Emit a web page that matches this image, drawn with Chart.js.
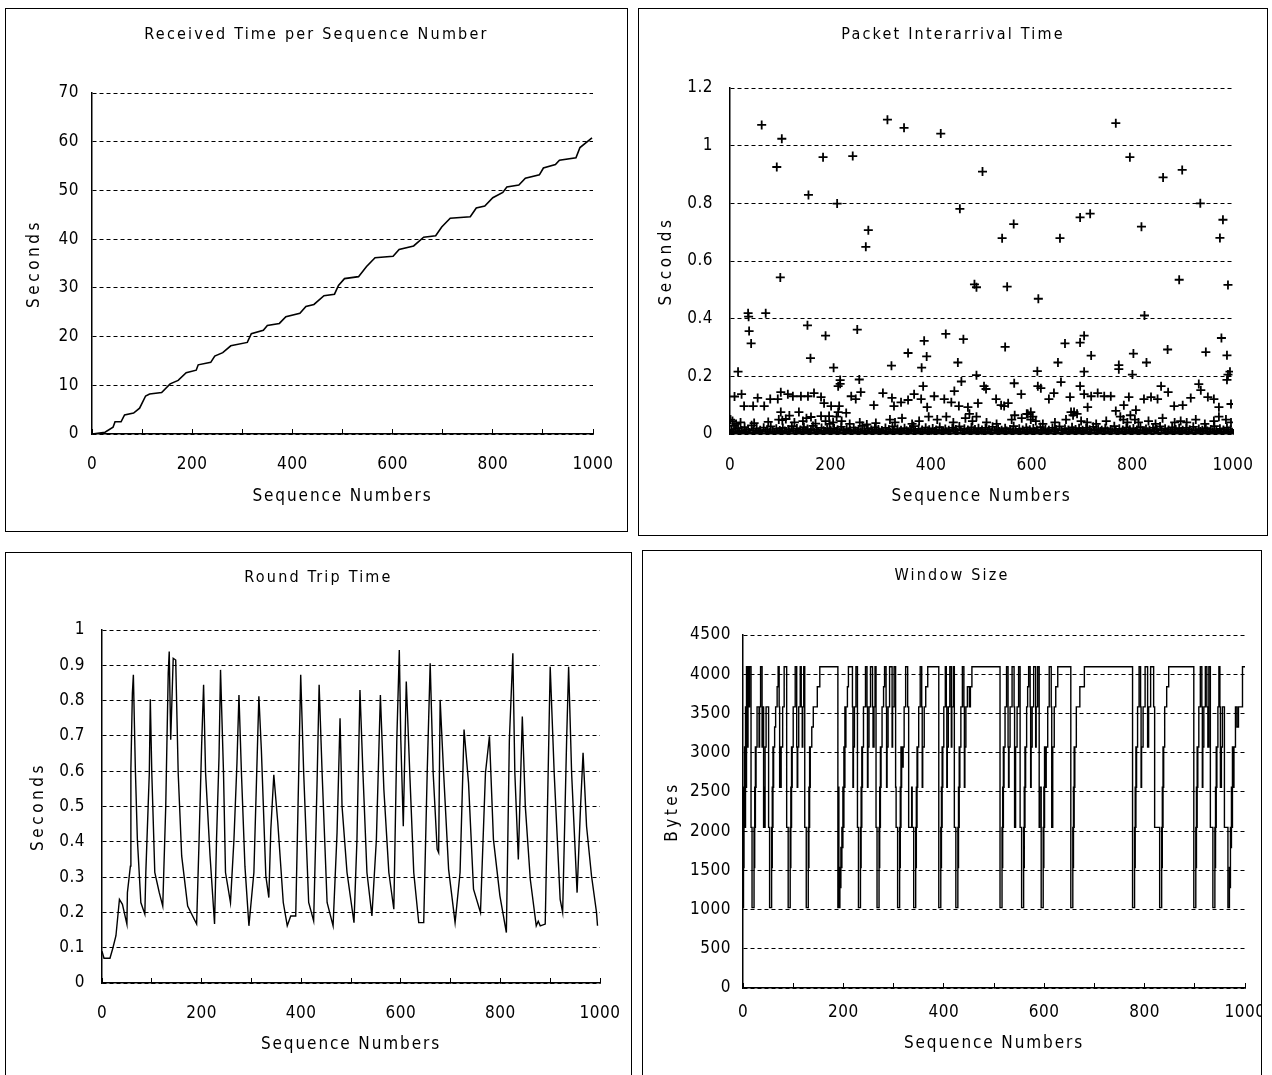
<!DOCTYPE html>
<html lang="en">
  <head>
    <meta charset="UTF-8" />
    <title>TCP Trace Charts</title>
    <script src="https://cdn.jsdelivr.net/npm/chart.js@4"></script>
    <style>
      body {
        margin: 0;
        width: 1272px;
        height: 1075px;
        overflow: hidden;
        background: #fff;
        position: relative;
      }
      .panel {
        position: absolute;
        border: 1px solid #000;
        background: #fff;
      }
      .panel canvas {
        display: block;
      }
    </style>
  </head>
  <body>
    <div class="panel" style="left: 5px; top: 8px; width: 621px; height: 522px">
      <canvas id="recvChart" width="621" height="522"></canvas>
    </div>
    <div class="panel" style="left: 638px; top: 8px; width: 628px; height: 526px">
      <canvas id="iatChart" width="628" height="526"></canvas>
    </div>
    <div class="panel" style="left: 5px; top: 552px; width: 625px; height: 528px">
      <canvas id="rttChart" width="625" height="528"></canvas>
    </div>
    <div class="panel" style="left: 642px; top: 550px; width: 618px; height: 528px">
      <canvas id="winChart" width="618" height="528"></canvas>
    </div>
    <script>
      /*** data: [sequence number, value] ***/
      const seqRange = { min: 0, max: 1000, step: 100, labelEvery: 200 };

      // received time (seconds) per sequence number, corner points of the staircase
      const receivedTime = [
        [0, 0], [26, 0.35], [42, 1.4], [46, 2.5], [58, 2.5], [65, 3.9], [83, 4.3], [95, 5.3],
        [107, 7.8], [115, 8.2], [139, 8.5], [156, 10.3], [172, 11], [188, 12.6], [208, 13.1],
        [212, 14.2], [237, 14.7], [245, 16], [261, 16.7], [277, 18.1], [310, 18.8], [318, 20.6],
        [342, 21.3], [350, 22.3], [374, 22.7], [387, 24.1], [415, 24.8], [427, 26.2], [443, 26.6],
        [463, 28.4], [484, 28.7], [492, 30.5], [504, 31.9], [532, 32.3], [548, 34.4], [565, 36.2],
        [601, 36.5], [613, 37.9], [642, 38.6], [662, 40.4], [686, 40.7], [698, 42.5], [715, 44.3],
        [755, 44.6], [767, 46.4], [784, 46.8], [800, 48.5], [820, 49.6], [828, 50.7], [852, 51.1],
        [865, 52.5], [893, 53.2], [901, 54.6], [925, 55.3], [933, 56.2], [966, 56.7], [974, 58.8],
        [998, 60.8]
      ];

      // packet interarrival time (seconds)
      const iatHigh = [
        [63, 1.072], [93, 0.926], [103, 1.024], [100, 0.543], [36, 0.419], [37, 0.407], [38, 0.357],
        [42, 0.314], [71, 0.419], [16, 0.216], [156, 0.829], [160, 0.263], [154, 0.377], [185, 0.96],
        [213, 0.799], [190, 0.341], [206, 0.23], [244, 0.964], [270, 0.649], [275, 0.707],
        [253, 0.362], [257, 0.189], [219, 0.174], [313, 1.09], [346, 1.062], [321, 0.237],
        [354, 0.281], [386, 0.323], [391, 0.269], [381, 0.23], [419, 1.042], [429, 0.347],
        [457, 0.781], [453, 0.248], [464, 0.329], [460, 0.182], [502, 0.91], [486, 0.519],
        [490, 0.509], [490, 0.204], [541, 0.679], [564, 0.728], [551, 0.511], [547, 0.302],
        [613, 0.469], [611, 0.218], [656, 0.679], [652, 0.248], [666, 0.314], [696, 0.751],
        [716, 0.764], [696, 0.317], [704, 0.341], [718, 0.272], [704, 0.216], [767, 1.078],
        [795, 0.96], [818, 0.719], [824, 0.411], [802, 0.279], [828, 0.248], [773, 0.239],
        [773, 0.225], [800, 0.206], [861, 0.89], [899, 0.916], [893, 0.535], [870, 0.293],
        [935, 0.8], [980, 0.743], [974, 0.68], [990, 0.517], [977, 0.333], [988, 0.273],
        [994, 0.216], [990, 0.206], [988, 0.188], [946, 0.284]
      ];
      const iatMid = [
        [9, 0.13], [23, 0.138], [28, 0.097], [46, 0.097], [55, 0.125], [68, 0.097], [80, 0.121],
        [95, 0.121], [101, 0.145], [115, 0.138], [125, 0.131], [141, 0.131], [155, 0.131],
        [167, 0.142], [181, 0.128], [187, 0.107], [201, 0.097], [217, 0.097], [215, 0.166],
        [219, 0.187], [241, 0.131], [250, 0.121], [260, 0.145], [101, 0.076], [111, 0.052],
        [137, 0.076], [161, 0.059], [181, 0.062], [197, 0.062], [215, 0.076], [231, 0.073],
        [286, 0.1], [304, 0.142], [322, 0.125], [326, 0.097], [340, 0.11], [354, 0.118],
        [366, 0.138], [384, 0.166], [380, 0.121], [392, 0.093], [406, 0.131], [426, 0.121],
        [440, 0.11], [446, 0.149], [455, 0.097], [473, 0.093], [493, 0.107], [505, 0.166],
        [509, 0.156], [529, 0.121], [545, 0.097], [553, 0.107], [565, 0.176], [579, 0.138],
        [598, 0.076], [612, 0.166], [618, 0.159], [634, 0.121], [644, 0.142], [658, 0.18],
        [676, 0.128], [684, 0.076], [696, 0.166], [704, 0.138], [711, 0.093], [718, 0.131],
        [731, 0.142], [744, 0.131], [757, 0.131], [767, 0.08], [783, 0.1], [793, 0.128],
        [807, 0.083], [823, 0.121], [837, 0.128], [850, 0.121], [857, 0.166], [871, 0.145],
        [883, 0.097], [900, 0.1], [916, 0.125], [932, 0.173], [936, 0.152], [950, 0.128],
        [962, 0.121], [972, 0.093], [996, 0.104], [678, 0.076], [592, 0.069], [539, 0.1]
      ];
      const iatLow = [
        [1, 0.05], [3, 0.015], [6, 0.006], [8, 0.028], [11, 0.01], [14, 0.003], [16, 0.02], [19, 0.008],
        [23, 0.012], [26, 0.004], [29, 0.024], [32, 0.009], [36, 0.016], [39, 0.005], [43, 0.03],
        [46, 0.011], [50, 0.004], [53, 0.019], [57, 0.007], [60, 0.013], [64, 0.003], [67, 0.022],
        [71, 0.009], [74, 0.015], [78, 0.005], [81, 0.026], [85, 0.01], [88, 0.004], [92, 0.018],
        [95, 0.008], [99, 0.012], [5, 0.045], [12, 0.035], [21, 0.04], [48, 0.038], [76, 0.042],
        [97, 0.05],
        [102, 0.006], [105, 0.021], [109, 0.01], [112, 0.004], [116, 0.016], [119, 0.008], [123, 0.027],
        [126, 0.012], [130, 0.003], [133, 0.019], [137, 0.007], [140, 0.014], [144, 0.005], [147, 0.024],
        [151, 0.01], [154, 0.017], [158, 0.004], [161, 0.012], [165, 0.028], [168, 0.006], [172, 0.015],
        [175, 0.009], [179, 0.003], [182, 0.021], [186, 0.011], [189, 0.006], [193, 0.018], [196, 0.008],
        [104, 0.048], [118, 0.064], [128, 0.04], [145, 0.045], [152, 0.055], [170, 0.036], [190, 0.045],
        [198, 0.035],
        [200, 0.013], [204, 0.004], [207, 0.02], [211, 0.009], [214, 0.015], [218, 0.005], [221, 0.025],
        [225, 0.011], [228, 0.004], [232, 0.017], [235, 0.008], [239, 0.013], [242, 0.003], [246, 0.022],
        [249, 0.01], [253, 0.006], [256, 0.016], [260, 0.008], [263, 0.028], [267, 0.012], [270, 0.004],
        [274, 0.019], [277, 0.007], [281, 0.014], [284, 0.005], [288, 0.023], [291, 0.01], [295, 0.016],
        [298, 0.006], [205, 0.04], [212, 0.06], [222, 0.045], [238, 0.035], [258, 0.04], [272, 0.033],
        [290, 0.038],
        [302, 0.012], [305, 0.004], [309, 0.021], [312, 0.008], [316, 0.015], [319, 0.005], [323, 0.026],
        [326, 0.01], [330, 0.004], [333, 0.017], [337, 0.008], [340, 0.013], [344, 0.003], [347, 0.02],
        [351, 0.011], [354, 0.006], [358, 0.016], [361, 0.009], [365, 0.027], [368, 0.012], [372, 0.004],
        [375, 0.018], [379, 0.007], [382, 0.014], [386, 0.005], [389, 0.022], [393, 0.01], [396, 0.015],
        [318, 0.05], [328, 0.04], [342, 0.055], [362, 0.035], [376, 0.045], [395, 0.06],
        [400, 0.006], [403, 0.019], [407, 0.009], [410, 0.014], [414, 0.004], [417, 0.024], [421, 0.011],
        [424, 0.006], [428, 0.017], [431, 0.008], [435, 0.013], [438, 0.003], [442, 0.021], [445, 0.01],
        [449, 0.016], [452, 0.005], [456, 0.026], [459, 0.012], [463, 0.004], [466, 0.018], [470, 0.008],
        [473, 0.014], [477, 0.005], [480, 0.023], [484, 0.01], [487, 0.016], [491, 0.006], [494, 0.02],
        [498, 0.009], [412, 0.05], [430, 0.06], [444, 0.04], [468, 0.055], [476, 0.07], [482, 0.045],
        [490, 0.06],
        [501, 0.014], [505, 0.004], [508, 0.021], [512, 0.008], [515, 0.015], [519, 0.005], [522, 0.025],
        [526, 0.011], [529, 0.004], [533, 0.017], [536, 0.009], [540, 0.013], [543, 0.003], [547, 0.02],
        [550, 0.01], [554, 0.006], [557, 0.016], [561, 0.008], [564, 0.027], [568, 0.012], [571, 0.004],
        [575, 0.018], [578, 0.007], [582, 0.014], [585, 0.005], [589, 0.022], [592, 0.01], [596, 0.015],
        [599, 0.006], [510, 0.04], [530, 0.035], [560, 0.05], [566, 0.065], [580, 0.055], [590, 0.07],
        [598, 0.05],
        [603, 0.019], [606, 0.009], [610, 0.014], [613, 0.004], [617, 0.024], [620, 0.011], [624, 0.006],
        [627, 0.017], [631, 0.008], [634, 0.013], [638, 0.003], [641, 0.021], [645, 0.01], [648, 0.016],
        [652, 0.005], [655, 0.026], [659, 0.012], [662, 0.004], [666, 0.018], [669, 0.008], [673, 0.014],
        [676, 0.005], [680, 0.023], [683, 0.01], [687, 0.016], [690, 0.006], [694, 0.02], [697, 0.009],
        [602, 0.06], [608, 0.045], [622, 0.035], [646, 0.04], [668, 0.05], [682, 0.065], [690, 0.07],
        [698, 0.045],
        [701, 0.013], [704, 0.004], [708, 0.021], [711, 0.008], [715, 0.015], [718, 0.005], [722, 0.025],
        [725, 0.011], [729, 0.004], [732, 0.017], [736, 0.009], [739, 0.013], [743, 0.003], [746, 0.02],
        [750, 0.01], [753, 0.006], [757, 0.016], [760, 0.008], [764, 0.027], [767, 0.012], [771, 0.004],
        [774, 0.018], [778, 0.007], [781, 0.014], [785, 0.005], [788, 0.022], [792, 0.01], [795, 0.015],
        [799, 0.006], [710, 0.04], [728, 0.035], [748, 0.045], [776, 0.06], [782, 0.05], [790, 0.04],
        [796, 0.065],
        [802, 0.019], [806, 0.009], [809, 0.014], [813, 0.004], [816, 0.024], [820, 0.011], [823, 0.006],
        [827, 0.017], [830, 0.008], [834, 0.013], [837, 0.003], [841, 0.021], [844, 0.01], [848, 0.016],
        [851, 0.005], [855, 0.026], [858, 0.012], [862, 0.004], [865, 0.018], [869, 0.008], [872, 0.014],
        [876, 0.005], [879, 0.023], [883, 0.01], [886, 0.016], [890, 0.006], [893, 0.02], [897, 0.009],
        [805, 0.05], [812, 0.04], [832, 0.045], [846, 0.035], [860, 0.055], [884, 0.04], [896, 0.045],
        [900, 0.013], [904, 0.004], [907, 0.021], [911, 0.008], [914, 0.015], [918, 0.005], [921, 0.025],
        [925, 0.011], [928, 0.004], [932, 0.017], [935, 0.009], [939, 0.013], [942, 0.003], [946, 0.02],
        [949, 0.01], [953, 0.006], [956, 0.016], [960, 0.008], [963, 0.027], [967, 0.012], [970, 0.004],
        [974, 0.018], [977, 0.007], [981, 0.014], [984, 0.005], [988, 0.022], [991, 0.01], [995, 0.015],
        [998, 0.006], [908, 0.04], [926, 0.05], [944, 0.035], [962, 0.045], [972, 0.06], [986, 0.05],
        [996, 0.04]
      ];

      // round trip time (seconds), corner points of the trace
      const roundTrip = [
        [0, 0.09], [4, 0.07], [16, 0.07], [22, 0.1], [28, 0.134], [35, 0.237], [41, 0.223], [50, 0.167],
        [51, 0.256], [57, 0.331], [58, 0.605], [61, 0.821], [63, 0.873], [67, 0.605], [71, 0.407],
        [78, 0.228], [86, 0.195], [88, 0.313], [95, 0.595], [97, 0.804], [100, 0.595], [106, 0.313],
        [115, 0.256], [122, 0.218], [128, 0.501], [133, 0.878], [135, 0.939], [138, 0.689], [143, 0.92],
        [148, 0.915], [153, 0.595], [160, 0.36], [172, 0.218], [190, 0.167], [195, 0.407], [200, 0.67],
        [204, 0.845], [208, 0.595], [217, 0.36], [226, 0.167], [230, 0.407], [235, 0.642], [238, 0.887],
        [244, 0.595], [248, 0.313], [258, 0.228], [265, 0.407], [271, 0.623], [275, 0.816], [280, 0.595],
        [287, 0.331], [295, 0.162], [305, 0.313], [315, 0.812], [320, 0.661], [329, 0.303], [335, 0.242],
        [339, 0.435], [345, 0.59], [353, 0.454], [364, 0.228], [372, 0.162], [379, 0.19], [389, 0.19],
        [395, 0.595], [399, 0.873], [405, 0.595], [415, 0.228], [425, 0.176], [432, 0.576], [436, 0.845],
        [442, 0.595], [452, 0.228], [464, 0.162], [472, 0.426], [478, 0.75], [482, 0.501], [492, 0.313],
        [506, 0.171], [512, 0.407], [518, 0.83], [524, 0.595], [532, 0.313], [542, 0.19], [551, 0.407],
        [559, 0.816], [566, 0.548], [576, 0.313], [586, 0.209], [592, 0.689], [597, 0.943], [600, 0.689],
        [605, 0.444], [611, 0.854], [618, 0.595], [626, 0.313], [636, 0.171], [646, 0.171], [653, 0.595],
        [659, 0.906], [665, 0.595], [673, 0.379], [676, 0.369], [679, 0.802], [686, 0.595], [696, 0.322],
        [709, 0.171], [719, 0.313], [727, 0.718], [736, 0.567], [746, 0.266], [760, 0.2], [770, 0.595],
        [778, 0.699], [786, 0.407], [799, 0.247], [812, 0.143], [818, 0.689], [825, 0.934], [829, 0.595],
        [836, 0.35], [844, 0.755], [850, 0.501], [860, 0.294], [872, 0.162], [876, 0.175], [880, 0.162],
        [890, 0.167], [900, 0.896], [908, 0.595], [920, 0.237], [925, 0.2], [933, 0.689], [937, 0.896],
        [943, 0.595], [954, 0.256], [961, 0.501], [966, 0.652], [973, 0.444], [983, 0.303], [993, 0.2],
        [995, 0.162]
      ];

      // window size (bytes), each value holds from its sequence number to the next one
      const windowSize = [
        [0, 1024], [1, 2560], [1.5, 1536], [2, 2560], [3, 3072], [4, 2048], [5, 3584], [6, 2560],
        [7, 4096], [9, 3072], [10, 4096], [12, 3584], [13, 4096], [16, 2048],
        [18, 1024], [22, 2048], [22.6, 1536], [23.3, 2560], [24, 2048], [24.7, 3072], [25.4, 2560],
        [26, 3072], [28, 3584], [31, 3584], [32, 3072], [33, 3584], [35, 4096], [38, 3072], [39, 3584],
        [41, 2048], [42, 2560], [43, 2048], [44, 3072], [46, 3584], [49, 3584], [51, 2048],
        [53, 1024], [57, 2048], [57.6, 1536], [58.3, 2560], [59, 2048], [59.7, 3072], [60.4, 2560],
        [61, 3072], [63, 3328], [65, 3584], [68, 3840], [70, 4096], [72, 3584], [73, 2560], [74, 3072],
        [75, 2560], [76, 3072], [79, 3584], [82, 4096], [87, 2048],
        [90, 1024], [94, 2048], [94.6, 1536], [95.3, 2560], [96, 2048], [96.7, 3072], [97.4, 2560],
        [98, 3072], [100, 3584], [102, 3584], [104, 4096], [107, 3072], [108, 2560], [109, 3072],
        [111, 3584], [114, 4096], [116, 3584], [118, 3072], [119, 3584], [121, 4096], [123, 2048],
        [126, 1024], [130, 2048], [130.6, 1536], [131.3, 2560], [132, 2048], [132.7, 3072],
        [133.4, 2560], [134, 3072], [137, 3328], [140, 3584], [145, 3584], [148, 3840], [153, 4096],
        [189, 1024], [190, 2560], [191, 1536], [192, 1024], [193, 1536], [194, 1280], [195, 1792],
        [196, 1536], [197, 2048], [198, 1792], [199, 2560], [200, 2048], [201, 3072], [202, 2560],
        [203, 3584], [204, 3072], [205, 3584], [208, 3840], [210, 4096], [218, 3584], [219, 2560],
        [220, 3072], [222, 3584], [225, 4096], [228, 2048],
        [230, 1024], [234, 2048], [234.6, 1536], [235.3, 2560], [236, 2048], [236.7, 3072],
        [237.4, 2560], [238, 3072], [240, 3584], [242, 3584], [244, 4096], [247, 3584], [248, 2560],
        [249, 3072], [251, 3584], [254, 4096], [258, 3584], [259, 3072], [261, 3584], [263, 4096],
        [265, 2048],
        [267, 1024], [271, 2048], [271.6, 1536], [272.3, 2560], [273, 2048], [273.7, 3072],
        [274.4, 2560], [275, 3072], [277, 3584], [280, 3840], [282, 4096], [285, 3584], [286, 2560],
        [287, 3072], [289, 3584], [292, 4096], [297, 3072], [298, 3584], [301, 4096], [304, 2560],
        [305, 2048],
        [308, 1024], [312, 2048], [312.6, 1536], [313.3, 2560], [314, 2048], [314.7, 3072],
        [315.4, 2560], [316, 3072], [318, 2816], [319, 3072], [321, 3584], [324, 4096], [328, 3584],
        [330, 2048], [334, 2048], [336, 2560], [337, 2048],
        [340, 1024], [344, 2048], [344.6, 1536], [345.3, 2560], [346, 2048], [346.7, 3072],
        [347.4, 2560], [348, 3072], [350, 3584], [353, 4096], [356, 3584], [357, 2560], [358, 3072],
        [361, 3584], [364, 3840], [368, 4096],
        [390, 1024], [394, 2048], [394.6, 1536], [395.3, 2560], [396, 2048], [396.7, 3072],
        [397.4, 2560], [398, 3072], [400, 3584], [403, 4096], [405, 3584], [406, 2560], [407, 3072],
        [409, 3584], [412, 4096], [415, 3072], [416, 3584], [419, 4096], [421, 2048],
        [424, 1024], [428, 2048], [428.6, 1536], [429.3, 2560], [430, 2048], [430.7, 3072],
        [431.4, 2560], [432, 3072], [434, 3584], [437, 4096], [440, 3584], [441, 2560], [442, 3072],
        [444, 3584], [447, 3840], [451, 3584], [453, 3840], [456, 4096],
        [512, 1024], [516, 2048], [516.6, 1536], [517.3, 2560], [518, 2048], [518.7, 3072],
        [519.4, 2560], [520, 3072], [522, 3584], [525, 4096], [528, 3072], [529, 2560], [530, 3072],
        [532, 3584], [536, 4096], [540, 3584], [541, 2048], [543, 3072], [546, 3584], [549, 4096],
        [552, 2048],
        [555, 1024], [559, 2048], [559.6, 1536], [560.3, 2560], [561, 2048], [561.7, 3072],
        [562.4, 2560], [563, 3072], [565, 3584], [567, 3840], [569, 4096], [572, 3584], [573, 2560],
        [574, 3072], [576, 3584], [579, 4096], [583, 3072], [584, 3584], [587, 4096], [590, 2048],
        [591, 2560],
        [594, 1024], [598, 2048], [598.6, 1536], [599.3, 2560], [600, 2048], [600.7, 3072],
        [601.4, 2560], [602, 3072], [603, 2560], [604, 3072], [607, 3584], [610, 4096], [614, 3584],
        [615, 2048], [617, 3072], [620, 3584], [623, 3840], [627, 4096],
        [653, 1024], [657, 2048], [657.6, 1536], [658.3, 2560], [659, 2048], [659.7, 3072],
        [660.4, 2560], [661, 3072], [664, 3584], [668, 3584], [671, 3840], [675, 3840], [680, 4096],
        [776, 1024], [780, 2048], [780.6, 1536], [781.3, 2560], [782, 2048], [782.7, 3072],
        [783.4, 2560], [784, 3072], [786, 3584], [789, 4096], [792, 3584], [793, 2560], [794, 3072],
        [797, 3584], [801, 4096], [806, 3072], [808, 3584], [812, 4096], [818, 3584], [820, 2048],
        [824, 2048],
        [830, 1024], [834, 2048], [834.6, 1536], [835.3, 2560], [836, 2048], [836.7, 3072],
        [837.4, 2560], [838, 3072], [840, 3584], [844, 3840], [848, 4096],
        [898, 1024], [902, 2048], [902.6, 1536], [903.3, 2560], [904, 2048], [904.7, 3072],
        [905.4, 2560], [906, 3072], [908, 3584], [911, 4096], [914, 3584], [915, 2560], [916, 3072],
        [918, 3584], [921, 4096], [924, 3584], [926, 3072], [928, 4096], [931, 2048],
        [936, 1024], [940, 2048], [940.6, 1536], [941.3, 2560], [942, 2048], [942.7, 3072],
        [943.4, 2560], [944, 3072], [946, 3584], [948, 4096], [950, 3584], [951, 2560], [953, 3072],
        [955, 3584], [957, 3584], [959, 2048], [962, 2048],
        [966, 1024], [969, 1536], [970, 1280], [971, 2048], [972, 1792], [973, 2560], [974, 2048],
        [975, 3072], [976, 2560], [978, 3072], [981, 3584], [984, 3328], [987, 3584], [991, 3584],
        [995, 4096], [1000, 4096]
      ];

      // y axis ranges
      const recvAxis = { min: 0, max: 70, step: 10 };
      const iatAxis = { min: 0, max: 1.2, step: 0.2 };
      const rttAxis = { min: 0, max: 1, step: 0.1 };
      const winAxis = { min: 0, max: 4500, step: 500 };

      /*** chart setup ***/
      const family = '"Liberation Sans Narrow", "DejaVu Sans Condensed", "DejaVu Sans", sans-serif';
      Chart.defaults.color = "#000";
      Chart.defaults.font.family = family;

      const toXY = (pts) => pts.map((p) => ({ x: p[0], y: p[1] }));

      // wider letter spacing for titles, a little for tick labels
      function spaced(obj, key, ctx, gap) {
        const orig = obj[key];
        obj[key] = function () {
          const old = ctx.letterSpacing;
          ctx.letterSpacing = gap;
          orig.apply(this, arguments);
          ctx.letterSpacing = old;
        };
      }
      const spacing = {
        id: "spacing",
        beforeUpdate(c) { c.ctx.letterSpacing = "0.5px"; },
        beforeDraw(c) {
          c.ctx.letterSpacing = "0.5px";
          if (c._spaced) return;
          c._spaced = true;
          if (c.titleBlock) spaced(c.titleBlock, "draw", c.ctx, "2.2px");
          spaced(c.scales.x, "drawTitle", c.ctx, "1.9px");
          spaced(c.scales.y, "drawTitle", c.ctx, "3.5px");
        },
      };

      function panelOptions(p) {
        return {
          responsive: false,
          animation: false,
          devicePixelRatio: 1,
          layout: { padding: { left: 0, right: 0, top: 0, bottom: p.padBottom } },
          plugins: {
            legend: { display: false },
            tooltip: { enabled: false },
            title: {
              display: true,
              text: p.title,
              font: { size: 16, weight: "normal" },
              padding: { top: p.titleTop, bottom: p.titleBottom },
            },
          },
          scales: {
            x: {
              type: "linear",
              min: seqRange.min,
              max: seqRange.max,
              ticks: {
                stepSize: seqRange.step,
                autoSkip: false,
                maxRotation: 0,
                padding: p.xTickPad,
                font: { size: 17 },
                callback: (v) => (v % seqRange.labelEvery === 0 ? String(v) : ""),
              },
              grid: { drawOnChartArea: false, drawTicks: true, tickLength: -5, color: "#000" },
              border: { color: "#000", width: 1.5 },
              title: {
                display: true,
                text: "Sequence Numbers",
                font: { size: 17 },
                padding: { top: 0, bottom: p.xTitlePad },
              },
              afterFit: (s) => {
                s.height = 80;
                s.paddingLeft = 0;
                s.paddingRight = 0;
              },
            },
            y: {
              min: p.axis.min,
              max: p.axis.max,
              ticks: {
                stepSize: p.axis.step,
                padding: p.yTickPad,
                font: { size: 17 },
                callback: (v) => String(Math.round(v * 100) / 100),
              },
              grid: { color: "#000", drawTicks: false, lineWidth: 1 },
              border: { color: "#000", width: 1.5, dash: [4, 3] },
              title: {
                display: true,
                text: p.yTitle,
                font: { size: 17 },
                padding: { top: p.yTitlePad, bottom: 0 },
              },
              afterFit: (s) => {
                s.width = p.yWidth;
                s.paddingTop = 0;
                s.paddingBottom = 0;
              },
            },
            yR: {
              position: "right",
              ticks: { display: false },
              grid: { display: false },
              border: { display: false },
              afterFit: (s) => {
                s.width = p.rightWidth;
              },
            },
          },
        };
      }

      new Chart(document.getElementById("recvChart"), {
        type: "line",
        data: {
          datasets: [{
            data: toXY(receivedTime),
            borderColor: "#000",
            borderWidth: 1.6,
            pointRadius: 0,
            tension: 0,
          }],
        },
        options: panelOptions({
          title: "Received Time per Sequence Number", yTitle: "Seconds", axis: recvAxis,
          padBottom: 17, titleTop: 16.4, titleBottom: 48.4, yWidth: 86, rightWidth: 34,
          yTickPad: 13, yTitlePad: 18.8, xTickPad: 25.8, xTitlePad: 6.8,
        }),
        plugins: [spacing],
      });

      new Chart(document.getElementById("iatChart"), {
        type: "scatter",
        data: {
          datasets: [{
            data: toXY(iatLow.concat(iatMid, iatHigh)),
            pointStyle: "cross",
            pointRadius: 4.5,
            borderColor: "#000",
            borderWidth: 1.8,
          }],
        },
        options: panelOptions({
          title: "Packet Interarrival Time", yTitle: "Seconds", axis: iatAxis,
          padBottom: 21, titleTop: 15.9, titleBottom: 43.9, yWidth: 91, rightWidth: 34,
          yTickPad: 17, yTitlePad: 17.4, xTickPad: 26.2, xTitlePad: 6.8,
        }),
        plugins: [spacing],
      });

      new Chart(document.getElementById("rttChart"), {
        type: "line",
        data: {
          datasets: [{
            data: toXY(roundTrip),
            borderColor: "#000",
            borderWidth: 1.4,
            pointRadius: 0,
            tension: 0,
          }],
        },
        options: panelOptions({
          title: "Round Trip Time", yTitle: "Seconds", axis: rttAxis,
          padBottom: 18, titleTop: 14.9, titleBottom: 42.9, yWidth: 96, rightWidth: 31,
          yTickPad: 17, yTitlePad: 22.5, xTickPad: 25.8, xTitlePad: 7.8,
        }),
        plugins: [spacing],
      });

      new Chart(document.getElementById("winChart"), {
        type: "line",
        data: {
          datasets: [{
            data: toXY(windowSize),
            borderColor: "#000",
            borderWidth: 1.4,
            pointRadius: 0,
            stepped: "before",
          }],
        },
        options: panelOptions({
          title: "Window Size", yTitle: "Bytes", axis: winAxis,
          padBottom: 11, titleTop: 15.2, titleBottom: 49.6, yWidth: 100, rightWidth: 16,
          yTickPad: 12, yTitlePad: 19.2, xTickPad: 19.5, xTitlePad: 14.4,
        }),
        plugins: [spacing],
      });
    </script>
  </body>
</html>
